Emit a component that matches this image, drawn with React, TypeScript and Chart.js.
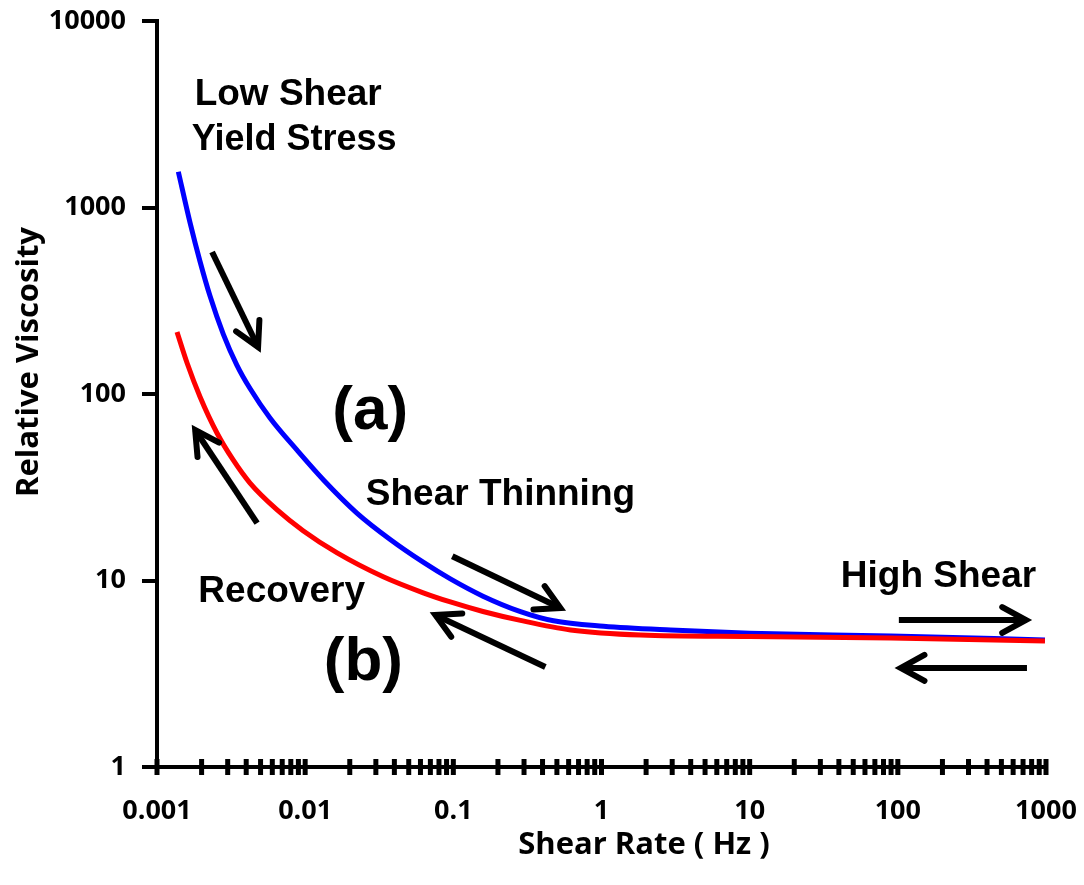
import React, { useEffect, useRef } from 'react';
import { Chart, registerables } from 'chart.js';

Chart.register(...registerables);

// ---- data ----
const blueShear = [0.001393, 0.001671, 0.001954, 0.00228, 0.002805, 0.003459, 0.004246, 0.005808, 0.00879, 0.0133, 0.02234, 0.0375, 0.06295, 0.0955, 0.1585, 0.2838, 0.4742, 1.033, 2.924, 10, 89.7, 984];
const blueVisc = [1556, 830, 512, 335, 209, 143, 107, 74.1, 50.1, 34.6, 23.0, 16.6, 12.5, 10.2, 8.24, 6.81, 6.08, 5.68, 5.42, 5.22, 5.04, 4.8];

const redShear = [0.001365, 0.001596, 0.001954, 0.00254, 0.003266, 0.004246, 0.006471, 0.009683, 0.01644, 0.03365, 0.06266, 0.0955, 0.1585, 0.2838, 0.618, 1.837, 10, 89.7, 984];
const redVisc = [215, 146.6, 96.4, 61.8, 44.3, 33.3, 23.9, 18.5, 14.06, 10.47, 8.59, 7.67, 6.82, 6.11, 5.43, 5.1, 5.01, 4.92, 4.74];

const xTickValues = [0.001, 0.01, 0.1, 1, 10, 100, 1000];
const xTickLabels = ['0.001', '0.01', '0.1', '1', '10', '100', '1000'];
const yTickValues = [1, 10, 100, 1000, 10000];
const yTickLabels = ['1', '10', '100', '1000', '10000'];
const xMinorMultipliers = [2, 3, 4, 5, 6, 7, 8, 9];

const xTitle = 'Shear Rate ( Hz )';
const yTitle = 'Relative Viscosity';

// annotation texts: [text, shear rate (centre), viscosity (baseline), font size]
const noteTexts: [string, number, number, number][] = [
  ['Low Shear', 0.00768, 3545, 37],
  ['Yield Stress', 0.00843, 2033, 36],
  ['(a)', 0.0275, 64.9, 62],
  ['(b)', 0.0247, 2.93, 62],
  ['Shear Thinning', 0.208, 25.4, 37],
  ['Recovery', 0.00694, 7.67, 37],
  ['High Shear', 188, 9.23, 37],
];

// arrows: tail (shear, visc) -> tip (shear, visc)
const noteArrows: [number, number, number, number][] = [
  [0.002354, 577, 0.00481, 178.6],
  [0.00474, 20.3, 0.00181, 64.1],
  [0.0984, 13.5, 0.528, 7.12],
  [0.418, 3.44, 0.0756, 6.53],
  [101.6, 6.14, 732, 6.14],
  [744, 3.4, 104.7, 3.4],
];

const TICK_FONT = '"Open Sans", "Noto Sans", sans-serif';
const NOTE_FONT = '"Liberation Sans", Arial, sans-serif';

const overlayPlugin = {
  id: 'overlay',
  afterDraw(chart: any) {
    const { ctx, chartArea } = chart;
    const xs = chart.scales.x;
    const ys = chart.scales.y;
    ctx.save();
    // x-axis ticks crossing the axis
    ctx.strokeStyle = '#000';
    ctx.lineWidth = 5;
    ctx.lineCap = 'butt';
    const b = chartArea.bottom;
    const drawTick = (v: number) => {
      const px = xs.getPixelForValue(v);
      ctx.beginPath();
      ctx.moveTo(px, b - 8);
      ctx.lineTo(px, b + 8);
      ctx.stroke();
    };
    for (let i = 0; i < xTickValues.length; i++) {
      drawTick(xTickValues[i]);
      if (i < xTickValues.length - 1) {
        for (const m of xMinorMultipliers) drawTick(xTickValues[i] * m);
      }
    }

    // annotation arrows
    ctx.lineWidth = 6;
    for (const [x0, y0, x1, y1] of noteArrows) {
      const ax = xs.getPixelForValue(x0);
      const ay = ys.getPixelForValue(y0);
      const bx = xs.getPixelForValue(x1);
      const by = ys.getPixelForValue(y1);
      ctx.lineCap = 'butt';
      ctx.beginPath();
      ctx.moveTo(ax, ay);
      ctx.lineTo(bx, by);
      ctx.stroke();
      const ang = Math.atan2(ay - by, ax - bx);
      const hl = 27;
      const ha = 0.5;
      ctx.lineCap = 'round';
      ctx.lineJoin = 'miter';
      ctx.beginPath();
      ctx.moveTo(bx + hl * Math.cos(ang + ha), by + hl * Math.sin(ang + ha));
      ctx.lineTo(bx, by);
      ctx.lineTo(bx + hl * Math.cos(ang - ha), by + hl * Math.sin(ang - ha));
      ctx.stroke();
    }

    // annotation texts
    ctx.fillStyle = '#000';
    ctx.textAlign = 'center';
    ctx.textBaseline = 'alphabetic';
    for (const [t, x, y, size] of noteTexts) {
      ctx.font = `bold ${size}px ${NOTE_FONT}`;
      ctx.fillText(t, xs.getPixelForValue(x), ys.getPixelForValue(y));
    }

    // axis titles
    ctx.font = `bold 31px ${TICK_FONT}`;
    ctx.fillText(xTitle, 644, 854);
    ctx.save();
    ctx.translate(38, 362);
    ctx.rotate(-Math.PI / 2);
    ctx.fillText(yTitle, 0, 0);
    ctx.restore();
    ctx.restore();
  },
};

export default function App() {
  const ref = useRef<HTMLCanvasElement | null>(null);
  useEffect(() => {
    document.body.style.margin = '0';
    const canvas = ref.current;
    if (!canvas) return;
    const chart = new Chart(canvas, {
      type: 'line',
      data: {
        datasets: [
          {
            label: 'Recovery',
            data: redShear.map((x, i) => ({ x, y: redVisc[i] })),
            borderColor: '#ff0000',
            borderWidth: 5,
            pointRadius: 0,
            cubicInterpolationMode: 'monotone',
            fill: false,
          },
          {
            label: 'Shear thinning',
            data: blueShear.map((x, i) => ({ x, y: blueVisc[i] })),
            borderColor: '#0000ff',
            borderWidth: 5,
            pointRadius: 0,
            cubicInterpolationMode: 'monotone',
            fill: false,
          },
        ],
      },
      options: {
        animation: false,
        responsive: false,
        events: [],
        layout: { padding: { top: 21, right: 38, left: 0, bottom: 0 } },
        plugins: {
          legend: { display: false },
          tooltip: { enabled: false },
          title: { display: false },
        },
        scales: {
          x: {
            type: 'logarithmic',
            min: 0.001,
            max: 1000,
            afterFit: (s: any) => {
              s.height = 118;
              s.paddingLeft = 0;
              s.paddingRight = 0;
            },
            afterBuildTicks: (s: any) => {
              s.ticks = xTickValues.map((v) => ({ value: v }));
            },
            ticks: {
              autoSkip: false,
              maxRotation: 0,
              padding: 20,
              color: '#000',
              font: { family: TICK_FONT, weight: 'bold', size: 27 },
              callback: (v: any) => {
                const i = xTickValues.indexOf(Number(v));
                return i >= 0 ? xTickLabels[i] : '';
              },
            },
            grid: { display: false },
            border: { display: true, color: '#000', width: 4 },
          },
          y: {
            type: 'logarithmic',
            min: 1,
            max: 10000,
            afterFit: (s: any) => {
              s.width = 157;
              s.paddingTop = 0;
              s.paddingBottom = 0;
            },
            afterBuildTicks: (s: any) => {
              s.ticks = yTickValues.map((v) => ({ value: v }));
            },
            ticks: {
              autoSkip: false,
              padding: 16,
              color: '#000',
              font: { family: TICK_FONT, weight: 'bold', size: 27 },
              callback: (v: any) => {
                const i = yTickValues.indexOf(Number(v));
                return i >= 0 ? yTickLabels[i] : '';
              },
            },
            grid: {
              display: true,
              drawOnChartArea: false,
              drawTicks: true,
              tickLength: 15,
              lineWidth: 4,
              color: '#000',
            },
            border: { display: true, color: '#000', width: 4 },
          },
        },
      },
      plugins: [overlayPlugin],
    } as any);
    return () => chart.destroy();
  }, []);
  return (
    <div style={{ width: 1084, height: 885, position: 'relative' }}>
      <canvas ref={ref} width={1084} height={885} style={{ display: 'block' }} />
    </div>
  );
}
